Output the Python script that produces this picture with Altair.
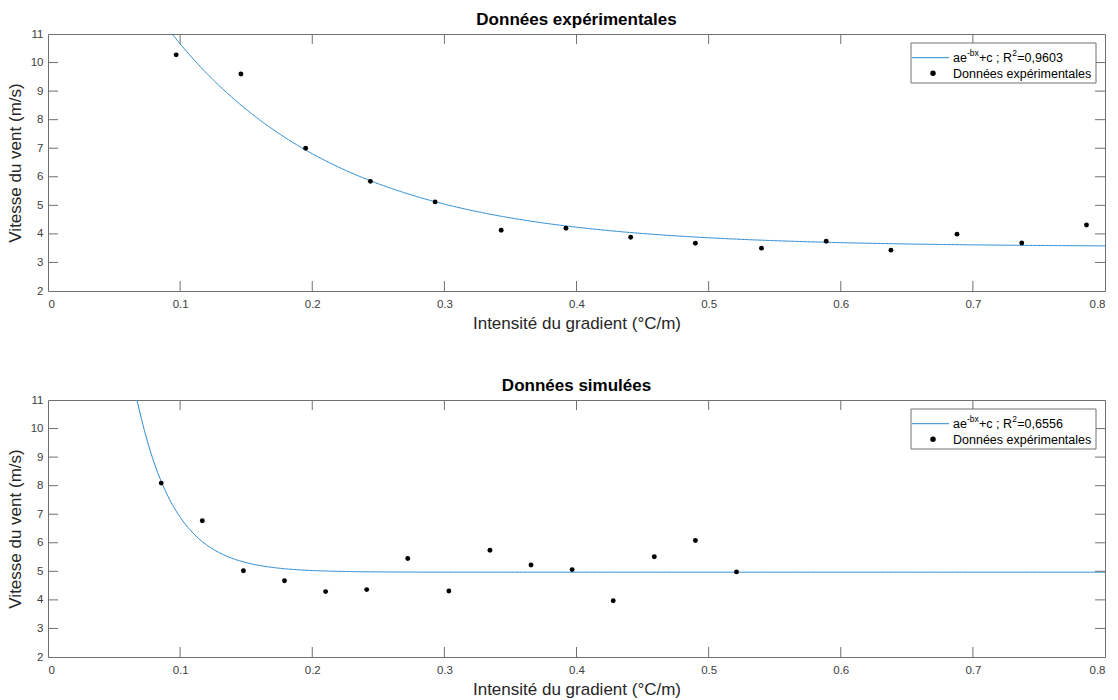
import math
import altair as alt
import pandas as pd

# Experimental measurements: gradient intensity (°C/m) vs wind speed (m/s)
exp_x = [0.097, 0.146, 0.195, 0.244, 0.293, 0.343, 0.392, 0.441,
         0.490, 0.540, 0.589, 0.638, 0.688, 0.737, 0.786]
exp_y = [10.27, 9.60, 7.00, 5.84, 5.12, 4.13, 4.20, 3.88,
         3.67, 3.50, 3.74, 3.43, 3.99, 3.68, 4.31]

# Simulated data
sim_x = [0.0857, 0.1168, 0.1479, 0.1790, 0.2101, 0.2412, 0.2723, 0.3034,
         0.3345, 0.3656, 0.3967, 0.4278, 0.4589, 0.4900, 0.5211]
sim_y = [8.09, 6.77, 5.02, 4.67, 4.29, 4.36, 5.45, 4.31,
         5.74, 5.22, 5.06, 3.97, 5.51, 6.08, 4.98]

# Fitted model a*exp(-b*x) + c for each data set
exp_fit = {"a": 15.5, "b": 7.8, "c": 3.55, "r2": "0,9603"}
sim_fit = {"a": 63.8, "b": 35.0, "c": 4.97, "r2": "0,6556"}

x_ticks = [0, 0.1, 0.2, 0.3, 0.4, 0.5, 0.6, 0.7, 0.8]
y_ticks = [2, 3, 4, 5, 6, 7, 8, 9, 10, 11]

W, H = 1057, 257
FONT = "Liberation Sans"
BLUE = "#2B8BD3"
FRAME = "#707070"
TICK_LEN = 10


def panel(title, xs, ys, fit):
    pts = pd.DataFrame({"x": xs, "y": ys})
    grid = [i * 0.001 for i in range(0, 801)]
    curve = pd.DataFrame({
        "x": grid,
        "y": [fit["a"] * math.exp(-fit["b"] * g) + fit["c"] for g in grid],
    })

    xscale = alt.Scale(domain=[0, 0.8], nice=False, zero=False)
    yscale = alt.Scale(domain=[2, 11], nice=False, zero=False)

    xaxis = alt.Axis(values=x_ticks, format="~g", title="Intensité du gradient (°C/m)")
    yaxis = alt.Axis(values=y_ticks, format="d", title="Vitesse du vent (m/s)")

    def X(field="x"):
        return alt.X(f"{field}:Q", scale=xscale, axis=xaxis)

    def Y(field="y"):
        return alt.Y(f"{field}:Q", scale=yscale, axis=yaxis)

    line = alt.Chart(curve).mark_line(color=BLUE, strokeWidth=1, clip=True).encode(
        x=X(), y=Y())
    dots = alt.Chart(pts).mark_circle(color="black", size=24, opacity=1).encode(
        x=X(), y=Y())

    # inward tick marks on all four sides of the box
    xt = pd.DataFrame({"x": x_ticks[1:-1]})
    yt = pd.DataFrame({"y": y_ticks[1:-1]})
    tick_style = dict(color=FRAME, strokeWidth=1)
    xb = alt.Chart(xt).mark_rule(**tick_style).encode(
        x=X(), y=alt.value(H), y2=alt.value(H - TICK_LEN))
    xtop = alt.Chart(xt).mark_rule(**tick_style).encode(
        x=X(), y=alt.value(0), y2=alt.value(TICK_LEN))
    yl = alt.Chart(yt).mark_rule(**tick_style).encode(
        y=Y(), x=alt.value(0), x2=alt.value(TICK_LEN))
    yr = alt.Chart(yt).mark_rule(**tick_style).encode(
        y=Y(), x=alt.value(W), x2=alt.value(W - TICK_LEN))

    # legend box in the upper right corner
    one = pd.DataFrame({"k": [0]})
    box = alt.Chart(one).mark_rect(fill="white", stroke=FRAME, strokeWidth=1).encode(
        x=alt.value(863), x2=alt.value(1048), y=alt.value(9), y2=alt.value(49))
    key_line = alt.Chart(one).mark_rule(color=BLUE, strokeWidth=1).encode(
        x=alt.value(864), x2=alt.value(901), y=alt.value(23.7))
    key_dot = alt.Chart(one).mark_circle(color="black", size=30, opacity=1).encode(
        x=alt.value(885), y=alt.value(39.3))

    def txt(s, x, y, size):
        return alt.Chart(one).mark_text(
            text=s, align="left", baseline="alphabetic", font=FONT,
            fontSize=size, color="black").encode(x=alt.value(x), y=alt.value(y))

    label_parts = [
        txt("ae", 905, 28.3, 12.5),
        txt("-bx", 919, 22.3, 8.5),
        txt("+c ; R", 931, 28.3, 12.5),
        txt("2", 964.3, 22.3, 8.5),
        txt("=" + fit["r2"], 969.3, 28.3, 12.5),
        txt("Données expérimentales", 905, 43.7, 12.5),
    ]

    return alt.layer(
        line, dots, xb, xtop, yl, yr, box, key_line, key_dot, *label_parts
    ).properties(
        width=W, height=H,
        title=alt.TitleParams(title, font=FONT, fontSize=17, fontWeight="bold",
                              color="black", offset=-1),
    )


top = panel("Données expérimentales", exp_x, exp_y, exp_fit)
bottom = panel("Données simulées", sim_x, sim_y, sim_fit)

chart = alt.vconcat(top, bottom, spacing=44).properties(
    padding={"left": 5, "right": 2, "top": 10, "bottom": 2},
    background="white",
).configure_view(
    stroke=FRAME, strokeWidth=1
).configure_axis(
    domain=False, ticks=False, tickSize=0, grid=False,
    labelFont=FONT, labelFontSize=11.5, labelColor="#404040",
    titleFont=FONT, titleFontSize=17, titleFontWeight="normal", titleColor="#262626",
).configure_axisX(
    labelPadding=7, titlePadding=6,
).configure_axisY(
    labelPadding=5, titlePadding=6,
)

chart.save("out.html", embed_options={"renderer": "svg", "actions": False})
